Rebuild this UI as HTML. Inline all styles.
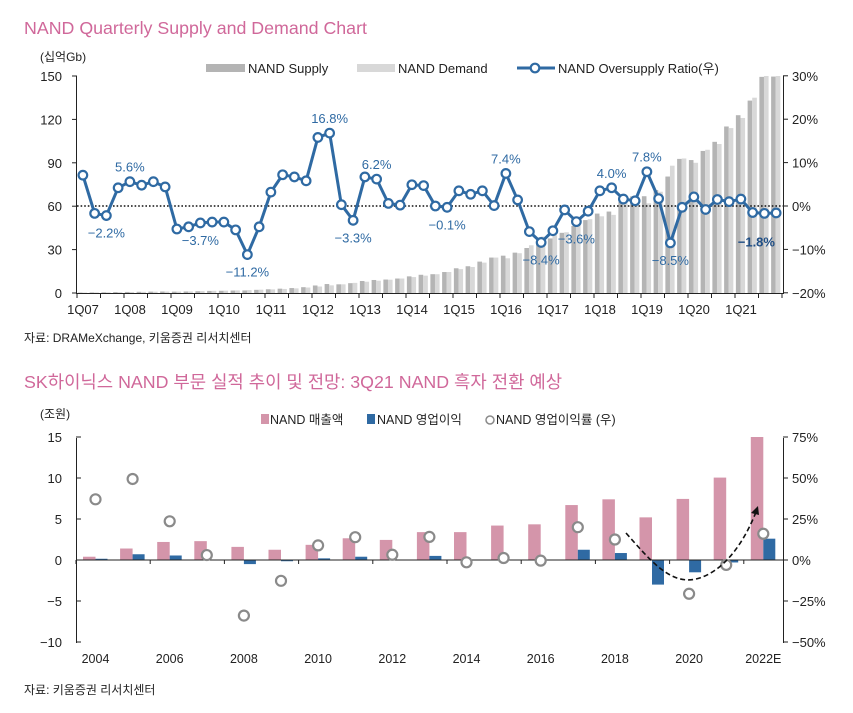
<!DOCTYPE html>
<html><head><meta charset="utf-8"><style>
html,body{margin:0;padding:0;background:#fff;}
svg{display:block;font-family:"Liberation Sans","Noto Sans CJK KR",sans-serif;}
</style></head><body>
<svg id="svg" width="853" height="713" viewBox="0 0 853 713" xmlns="http://www.w3.org/2000/svg">
<text x="24" y="34" font-size="17.8" fill="#d0689a">NAND Quarterly Supply and Demand Chart</text>
<text x="40" y="61" font-size="12" fill="#222">(십억Gb)</text>
<g id="top"></g>
<text x="24" y="342" font-size="12" fill="#222">자료: DRAMeXchange, 키움증권 리서치센터</text>
<text x="24" y="388" font-size="17.8" fill="#d0689a">SK하이닉스 NAND 부문 실적 추이 및 전망: 3Q21 NAND 흑자 전환 예상</text>
<text x="40" y="418" font-size="12" fill="#222">(조원)</text>
<g id="bot"></g>
<text x="24" y="694" font-size="12" fill="#222">자료: 키움증권 리서치센터</text>
</svg>
<script>
// ---------- top chart data ----------
const quarterTickLabels = ["1Q07","1Q08","1Q09","1Q10","1Q11","1Q12","1Q13","1Q14","1Q15","1Q16","1Q17","1Q18","1Q19","1Q20","1Q21"];
const nandSupply = [0.32,0.39,0.49,0.63, 0.74,0.84,0.95,1.04, 0.95,1.05,1.25,1.44, 1.54,1.70,1.78,2.19, 2.58,3.0,3.41,4.02, 5.2,6.2,6.0,6.8, 8.3,9.0,9.3,10.0, 11.5,12.6,13.0,14.5, 17.1,18.5,21.7,24.5, 25.8,27.9,31.1,35.7, 37.7,41.6,46.3,50.4, 54.9,56.3,63.0,66.8, 66.9,71.2,80.5,92.7, 91.9,98.2,104.5,115.1, 122.9,133,149.4,149.6];
const nandDemand = [0.3,0.4,0.5,0.6, 0.7,0.8,0.9,1.0, 1.0,1.1,1.3,1.5, 1.6,1.8,2.0,2.3, 2.5,2.8,3.2,3.8, 4.5,5.3,6.0,7.0, 7.8,8.5,9.2,10, 11,12,13,14.5, 16.5,18,21,24.5, 24,27.5,33,39, 40,42,48,51, 53,54,62,66, 62,70,88,93, 90,99,103,114, 121,135,152,152];
const oversupplyRatio = [7.1,-1.7,-2.2,4.2, 5.6,4.8,5.6,4.4, -5.3,-4.8,-3.9,-3.7, -3.7,-5.5,-11.2,-4.8, 3.2,7.2,6.7,5.8, 15.8,16.8,0.3,-3.3, 6.7,6.2,0.6,0.2, 4.9,4.7,0,-0.3, 3.5,2.7,3.5,0.1, 7.5,1.4,-5.9,-8.4, -5.7,-0.9,-3.6,-1.2, 3.5,4.2,1.6,1.2, 7.9,1.7,-8.5,-0.3, 2.1,-0.8,1.5,1.0, 1.6,-1.5,-1.7,-1.6];
const leftTicks = [0,30,60,90,120,150];
const rightTicks = [-20,-10,0,10,20,30];
const ratioLabels = [[4,"5.6%"],[2,"-2.2%"],[10,"-3.7%"],[14,"-11.2%"],[21,"16.8%"],[25,"6.2%"],[23,"-3.3%"],[31,"-0.1%"],[36,"7.4%"],[39,"-8.4%"],[42,"-3.6%"],[45,"4.0%"],[48,"7.8%"],[50,"-8.5%"],[58,"-1.8%"]];

// ---------- bottom chart data ----------
const years = ["2004","2005","2006","2007","2008","2009","2010","2011","2012","2013","2014","2015","2016","2017","2018","2019","2020","2021","2022"];
const yearTickLabels = ["2004","2006","2008","2010","2012","2014","2016","2018","2020","2022E"];
const revenue = [0.4,1.4,2.2,2.3,1.6,1.25,1.85,2.65,2.45,3.4,3.4,4.2,4.35,6.7,7.4,5.2,7.45,10.05,15];
const opProfit = [0.15,0.7,0.55,0.05,-0.5,-0.15,0.2,0.4,0.05,0.5,0.05,0.05,0.05,1.25,0.85,-3.0,-1.5,-0.3,2.6];
const opMargin = [37,49.4,23.6,3,-33.9,-12.7,8.9,13.9,3.2,14.1,-1.4,1.2,-0.4,20,12.5,null,-20.6,-3,16];
const botLeftTicks = [-10,-5,0,5,10,15];
const botRightTicks = [-50,-25,0,25,50,75];

const NS="http://www.w3.org/2000/svg";
function mk(tag,attrs,parent,text){const e=document.createElementNS(NS,tag);for(const k in attrs)e.setAttribute(k,attrs[k]);if(text!==undefined)e.textContent=text;parent.appendChild(e);return e;}

// ===== TOP =====
(function(){
const g=document.getElementById('top');
const X0=77, QW=11.75, Y0=293, Y150=76;
const yL=v=>Y0-(Math.min(v,150)/150)*(Y0-Y150);
const yR=v=>206-(v/10)*43.4;
const xq=i=>X0+QW*(i+0.5);
nandSupply.forEach((v,i)=>{const b=mk('rect',{x:xq(i)-5,y:yL(v),width:4.6,height:Y0-yL(v),fill:'#b4b4b4'},g);

});
nandDemand.forEach((v,i)=>{const b=mk('rect',{x:xq(i)-0.4,y:yL(v),width:4.6,height:Y0-yL(v),fill:'#d8d8d8'},g);

});
let a=mk('line',{x1:76.5,y1:Y150,x2:76.5,y2:Y0,stroke:'#222','stroke-width':1},g);


a=mk('line',{x1:783.5,y1:Y150,x2:783.5,y2:Y0,stroke:'#222','stroke-width':1},g);


a=mk('line',{x1:76,y1:Y0+0.5,x2:784,y2:Y0+0.5,stroke:'#222','stroke-width':1},g);


a=mk('line',{x1:77,y1:yR(0),x2:783,y2:yR(0),stroke:'#111','stroke-width':1.6,'stroke-dasharray':'1.6 2'},g);


leftTicks.forEach(v=>{const y=yL(v);mk('line',{x1:72,y1:y,x2:77,y2:y,stroke:'#222'},g);
const t=mk('text',{x:62,y:y+5,'font-size':13,'text-anchor':'end',fill:'#222'},g,String(v));

});
rightTicks.forEach(v=>{const y=yR(v);mk('line',{x1:783,y1:y,x2:788,y2:y,stroke:'#222'},g);
const t=mk('text',{x:792,y:y+5,'font-size':13,fill:'#222'},g,(v<0?'\u2212':'')+Math.abs(v)+'%');

});
for(let i=0;i<=60;i+=2){const x=X0+QW*i;mk('line',{x1:x,y1:Y0,x2:x,y2:Y0+5,stroke:'#222'},g);}
quarterTickLabels.forEach((s,k)=>{const t=mk('text',{x:X0+QW*4*k+6,y:314,'font-size':13,'text-anchor':'middle',fill:'#222'},g,s);

});
const pts=oversupplyRatio.map((v,i)=>xq(i)+','+yR(v)).join(' ');
const pl=mk('polyline',{points:pts,fill:'none',stroke:'#2f6aa3','stroke-width':3,'stroke-linejoin':'round'},g);


oversupplyRatio.forEach((v,i)=>{const c=mk('circle',{cx:xq(i),cy:yR(v),r:4.3,fill:'#fff',stroke:'#2f6aa3','stroke-width':2.2},g);

});
ratioLabels.forEach(([i,s])=>{const v=oversupplyRatio[i];const up=s.indexOf('-')<0;
const bold=(i===58);
const t=mk('text',{x:xq(i)+(bold?-8:0),y:up?yR(v)-10:yR(v)+(bold?33:22),'font-size':13,'text-anchor':'middle',fill:bold?'#1f4e85':'#2f6aa3','font-weight':bold?'bold':'normal'},g,s.replace('-','\u2212'));

});
let l=mk('rect',{x:206,y:64,width:39,height:8,fill:'#b4b4b4'},g);


l=mk('text',{x:248,y:73,'font-size':13,fill:'#222'},g,'NAND Supply');


l=mk('rect',{x:357,y:64,width:38,height:8,fill:'#d8d8d8'},g);


l=mk('text',{x:398,y:73,'font-size':13,fill:'#222'},g,'NAND Demand');


mk('line',{x1:517,y1:68,x2:555,y2:68,stroke:'#2f6aa3','stroke-width':3},g);
l=mk('circle',{cx:535,cy:68,r:4.3,fill:'#fff',stroke:'#2f6aa3','stroke-width':2.2},g);


l=mk('text',{x:558,y:73,'font-size':13,fill:'#222'},g,'NAND Oversupply Ratio(우)');


})();

// ===== BOTTOM =====
(function(){
const g=document.getElementById('bot');
const X0=95.5, W=37.1, Y0=560, PU=8.2;
const yL=v=>Y0-v*PU;
const yR=v=>Y0-v/25*41;
const xc=i=>X0+W*i;
revenue.forEach((v,i)=>{const y=yL(Math.max(v,0));const b=mk('rect',{x:xc(i)-12.5,y:y,width:12.5,height:Math.abs(v)*PU,fill:'#d495aa'},g);

});
opProfit.forEach((v,i)=>{const y=v>=0?yL(v):Y0;const b=mk('rect',{x:xc(i),y:y,width:12,height:Math.abs(v)*PU,fill:'#2f6aa3'},g);

});
let a=mk('line',{x1:76.5,y1:438,x2:76.5,y2:643,stroke:'#222'},g);


a=mk('line',{x1:783.5,y1:438,x2:783.5,y2:643,stroke:'#222'},g);


a=mk('line',{x1:76,y1:Y0,x2:784,y2:Y0,stroke:'#222'},g);


for(let k=0;k<10;k++){const x=76+74.2*k;mk('line',{x1:x,y1:Y0,x2:x,y2:Y0+4,stroke:'#222'},g);}
botLeftTicks.forEach(v=>{const y=yL(v);mk('line',{x1:76,y1:y,x2:81,y2:y,stroke:'#222'},g);
const t=mk('text',{x:62,y:y+5,'font-size':13,'text-anchor':'end',fill:'#222'},g,(v<0?'\u2212':'')+Math.abs(v));

});
botRightTicks.forEach(v=>{const y=yR(v);mk('line',{x1:783,y1:y,x2:788,y2:y,stroke:'#222'},g);
const t=mk('text',{x:792,y:y+5,'font-size':13,fill:'#222'},g,(v<0?'\u2212':'')+Math.abs(v)+'%');

});
yearTickLabels.forEach((s,k)=>{const t=mk('text',{x:xc(k*2),y:663,'font-size':12.5,'text-anchor':'middle',fill:'#222'},g,s);

});
opMargin.forEach((v,i)=>{if(v===null)return;const c=mk('circle',{cx:xc(i),cy:yR(v),r:5,fill:'#fff',stroke:'#8a8a8a','stroke-width':2.2},g);

});
let p=mk('path',{d:'M626,533 C650,560 670,585 696,579 C725,572 745,540 756,512',fill:'none',stroke:'#111','stroke-width':1.6,'stroke-dasharray':'5 3'},g);


mk('path',{d:'M758,506 L751,513 L759,515 Z',fill:'#111'},g);
let l=mk('rect',{x:261,y:414,width:8,height:10,fill:'#d495aa'},g);


l=mk('text',{x:270,y:424,'font-size':12.5,fill:'#222'},g,'NAND 매출액');


l=mk('rect',{x:367,y:414,width:8,height:10,fill:'#2f6aa3'},g);


l=mk('text',{x:377,y:424,'font-size':12.5,fill:'#222'},g,'NAND 영업이익');


l=mk('circle',{cx:490,cy:420,r:4,fill:'#fff',stroke:'#8a8a8a','stroke-width':1.5},g);


l=mk('text',{x:496,y:424,'font-size':12.5,fill:'#222'},g,'NAND 영업이익률 (우)');


})();
</script>
</body></html>
